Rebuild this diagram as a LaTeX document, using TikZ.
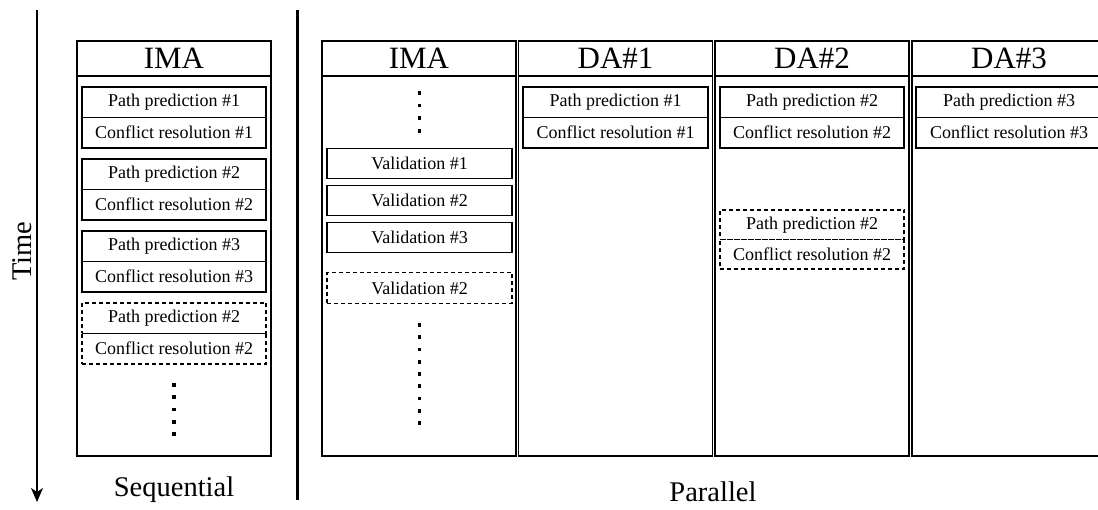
\documentclass[tikz,border=0pt]{standalone}
\usepackage{fontspec}
\setmainfont{Liberation Serif}
\usetikzlibrary{arrows.meta}
\begin{document}
\begin{tikzpicture}[x=1pt,y=-1pt,
  frame/.style={draw,line width=1.2pt,inner sep=0pt,outer sep=0pt},
  head/.style={frame,minimum width=194pt,minimum height=35pt,font=\fontsize{31}{36}\selectfont},
  body/.style={frame,minimum width=194pt,minimum height=380pt},
  task/.style={frame,minimum height=30.5pt,font=\fontsize{18}{21}\selectfont},
  redo/.style={task,dashed,dash pattern=on 4pt off 3pt},
  dot/.style={fill,rectangle,inner sep=0pt,minimum size=3.6pt},
  caption/.style={font=\fontsize{28.5}{33}\selectfont}]
\useasboundingbox (0,0) rectangle (1098,510);
\clip (0,0) rectangle (1098,510);

% time axis and separator
\coordinate (t0) at (37,10);
\coordinate (t1) at (37,502);
\draw[line width=1.4pt,-{Stealth[length=14pt,width=12pt,inset=4pt]}] (t0) -- (t1);
\node[caption,rotate=90] (time) at (22,251) {Time};
\coordinate (s0) at (297,10);
\coordinate (s1) at (297,500);
\draw[line width=3pt] (s0) -- (s1);

% sequential column
\node[head] (sh) at (174,58.5) {IMA};
\node[body] (sb) at (174,266) {};
\node[task,minimum width=184pt] (spp1) at (174,102.25) {Path prediction \#1};
\node[task,minimum width=184pt] (scr1) at (174,132.75) {Conflict resolution \#1};
\node[task,minimum width=184pt] (spp2) at (174,174.25) {Path prediction \#2};
\node[task,minimum width=184pt] (scr2) at (174,204.75) {Conflict resolution \#2};
\node[task,minimum width=184pt] (spp3) at (174,246.25) {Path prediction \#3};
\node[task,minimum width=184pt] (scr3) at (174,276.75) {Conflict resolution \#3};
\node[redo,minimum width=184pt] (spp4) at (174,318.25) {Path prediction \#2};
\node[redo,minimum width=184pt] (scr4) at (174,348.75) {Conflict resolution \#2};
\foreach \i in {0,...,4} \node[dot] at (174,385+12.25*\i) {};
\node[caption] (seq) at (174,490) {Sequential};

% parallel: IMA column
\node[head] (ph) at (419,58.5) {IMA};
\node[body] (pb) at (419,266) {};
\foreach \i in {0,...,3} \node[dot] at (419.5,93+12.6*\i) {};
\node[task,minimum width=185pt] (v1) at (419.5,163.5) {Validation \#1};
\node[task,minimum width=185pt] (v2) at (419.5,200.5) {Validation \#2};
\node[task,minimum width=185pt] (v3) at (419.5,237.5) {Validation \#3};
\node[redo,minimum width=185pt] (v4) at (419.5,288) {Validation \#2};
\foreach \i in {0,...,8} \node[dot] at (419.5,325+12.25*\i) {};

% parallel: DA#1
\node[head] (d1h) at (615.5,58.5) {DA\#1};
\node[body] (d1b) at (615.5,266) {};
\node[task,minimum width=185pt] (d1pp) at (615.5,102.25) {Path prediction \#1};
\node[task,minimum width=185pt] (d1cr) at (615.5,132.75) {Conflict resolution \#1};

% parallel: DA#2
\node[head] (d2h) at (812,58.5) {DA\#2};
\node[body] (d2b) at (812,266) {};
\node[task,minimum width=184pt] (d2pp) at (812,102.25) {Path prediction \#2};
\node[task,minimum width=184pt] (d2cr) at (812,132.75) {Conflict resolution \#2};
\node[redo,minimum width=184pt,minimum height=29.5pt] (d2pp2) at (812,224.75) {Path prediction \#2};
\node[redo,minimum width=184pt,minimum height=29.5pt] (d2cr2) at (812,254.25) {Conflict resolution \#2};

% parallel: DA#3
\node[head] (d3h) at (1009,58.5) {DA\#3};
\node[body] (d3b) at (1009,266) {};
\node[task,minimum width=186pt] (d3pp) at (1009,102.25) {Path prediction \#3};
\node[task,minimum width=186pt] (d3cr) at (1009,132.75) {Conflict resolution \#3};

\node[caption] (par) at (713,492) {Parallel};
\end{tikzpicture}
\end{document}
